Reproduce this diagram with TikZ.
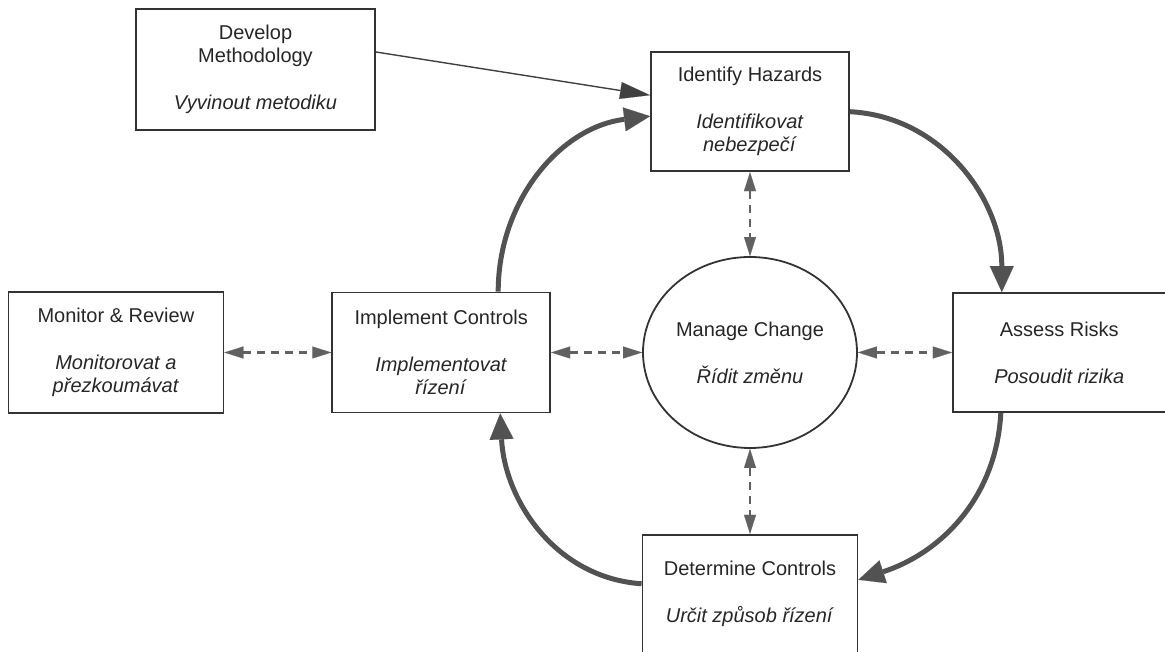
\documentclass[tikz,border=0pt]{standalone}
\usepackage{fontspec}
\setmainfont{Liberation Sans}
\usetikzlibrary{arrows.meta,positioning,shapes.geometric}

\newcommand{\cz}[1]{\textit{#1}}

\begin{document}
\begin{tikzpicture}[x=1pt,y=1pt,font=\fontsize{20}{23}\selectfont,
    box/.style={rectangle,draw=black!80,line width=1.8pt,align=center,text=black!85,inner sep=3pt},
    loop arrow/.style={draw,color=black!68,line width=5pt,
                       -{Triangle[length=26pt,width=24pt,line width=0.1pt]}},
    thin arrow/.style={draw,color=black!75,line width=1.4pt,
                       -{Triangle[length=30pt,width=17pt,line width=0.1pt]}},
    link/.style={draw,color=black!62,line width=2.2pt,dash pattern=on 8pt off 6pt,
                 {Triangle[length=19pt,width=12pt,line width=0.1pt]}-{Triangle[length=19pt,width=12pt,line width=0.1pt]}}]

      \useasboundingbox (0,0) rectangle (1165,652);

      \node[ellipse,draw=black!80,line width=1.8pt,minimum width=214pt,minimum height=191pt,
            inner sep=0pt,align=center,text=black!85] (change) at (750,299.5)
            {Manage Change\\[24pt]\cz{Řídit změnu}};
      \node[box,minimum width=198pt,minimum height=119pt] (identify) [above=84pt of change]
            {Identify Hazards\\[24pt]\cz{Identifikovat}\\\cz{nebezpečí}};
      \node[box,minimum width=213pt,minimum height=119pt] (assess) [right=94pt of change]
            {Assess Risks\\[24pt]\cz{Posoudit rizika}};
      \node[box,minimum width=215pt,minimum height=118pt] (determine) [below=85pt of change]
            {Determine Controls\\[24pt]\cz{Určit způsob řízení}};
      \node[box,minimum width=218pt,minimum height=120pt] (implement) [left=91pt of change]
            {Implement Controls\\[24pt]\cz{Implementovat}\\\cz{řízení}};
      \node[box,minimum width=215pt,minimum height=121pt] (monitor) [left=107pt of implement]
            {Monitor \& Review\\[24pt]\cz{Monitorovat a}\\\cz{přezkoumávat}};
      \node[box,minimum width=239pt,minimum height=121pt] (develop) at (255.5,582.5)
            {Develop\\Methodology\\[24pt]\cz{Vyvinout metodiku}};

      \draw[thin arrow] ([yshift=17.5pt]develop.east) -- ([yshift=16.5pt]identify.west);

      \path[every edge/.style={loop arrow}]
        ([xshift=57pt]implement.north) edge[out=90,in=187] ([yshift=-4.5pt]identify.west)
        (identify.east) edge[out=-3,in=90] ([xshift=-57.5pt]assess.north)
        ([xshift=-58.5pt]assess.south) edge[out=-93,in=18] ([yshift=14pt]determine.east)
        ([yshift=10pt]determine.west) edge[out=176,in=-87] ([xshift=59pt]implement.south);

      \path[every edge/.style={link}]
        (monitor) edge (implement)
        (implement) edge (change)
        (change) edge (assess)
        (identify) edge (change)
        (change) edge (determine);
    \end{tikzpicture}
\end{document}
